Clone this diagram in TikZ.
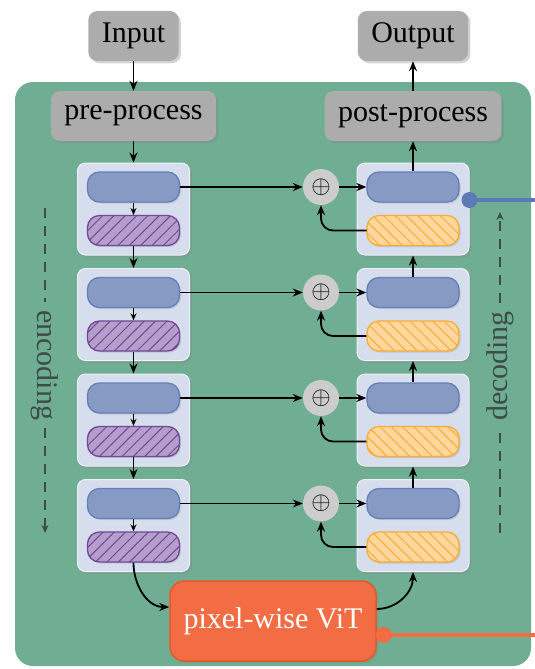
\documentclass[tikz,border=0pt]{standalone}
\usepackage{fontspec}
\setmainfont{Liberation Serif}
\usetikzlibrary{calc}
\usetikzlibrary{arrows.meta}
\usetikzlibrary{patterns.meta}
\usetikzlibrary{shadows}

\definecolor{bggreen}{RGB}{111,174,147}
\definecolor{boxgray}{RGB}{172,172,172}
\definecolor{blockbg}{RGB}{214,221,236}
\definecolor{pillblue}{RGB}{134,154,196}
\definecolor{pillbluedark}{RGB}{100,128,184}
\definecolor{hatchpurple}{RGB}{182,158,204}
\definecolor{hatchpurpledark}{RGB}{112,72,150}
\definecolor{hatchorange}{RGB}{255,214,155}
\definecolor{hatchorangedark}{RGB}{250,172,56}
\definecolor{vitorange}{RGB}{242,108,68}
\definecolor{vitorangedark}{RGB}{228,88,44}
\definecolor{linkblue}{RGB}{92,122,182}
\definecolor{labelgray}{RGB}{62,76,70}
\definecolor{addgray}{RGB}{204,204,204}

\begin{document}
\begin{tikzpicture}[x=1pt, y=-1pt, font=\rmfamily\fontsize{30}{34}\selectfont,
  >={Stealth[length=10pt,width=8pt]},
  io/.style={fill=boxgray, rounded corners=9pt, minimum height=50pt, inner xsep=13.5pt, drop shadow={opacity=.35}},
  block/.style={fill=blockbg, draw=white!60!blockbg, line width=1pt, rounded corners=8pt, minimum width=112pt, minimum height=92pt, inner sep=0pt, drop shadow={opacity=.3}},
  pill/.style={rounded corners=12pt, minimum width=92pt, minimum height=30pt, inner sep=0pt, line width=1.3pt, drop shadow={opacity=.25,shadow xshift=1.5pt,shadow yshift=-1.5pt}},
  uppill/.style={pill, fill=pillblue, draw=pillbluedark},
  encpill/.style={pill, draw=hatchpurpledark, preaction={fill=hatchpurple}, pattern={Lines[angle=45,distance=8pt,line width=1pt]}, pattern color=hatchpurpledark},
  decpill/.style={pill, draw=hatchorangedark, preaction={fill=hatchorange}, pattern={Lines[angle=-45,distance=8pt,line width=1pt]}, pattern color=hatchorangedark},
  addnode/.style={circle, fill=addgray, minimum size=36pt, inner sep=0pt},
  flow/.style={line width=1.8pt, ->},
  labeldash/.style={draw=labelgray, line width=1.4pt, dash pattern=on 10pt off 8pt, >={Stealth[length=8pt,width=7pt]}},
  sidelabel/.style={text=labelgray, inner sep=8pt}
]
\useasboundingbox (0,0) rectangle (535,669);
\fill[bggreen, rounded corners=18pt] (15,82) rectangle (531,666);

\node[io] (input) at (133.5,36) {Input};
\node[io] (output) at (413,36) {Output};
\node[io] (pre) at (133.5,116) {pre-process};
\node[io] (post) at (413,116) {post-process};

\foreach \k [evaluate=\k as \yb using 209+105.5*\k,
             evaluate=\k as \yu using 187+105.5*\k,
             evaluate=\k as \yl using 230.5+105.5*\k] in {0,1,2,3} {
 \node[block] (enc\k) at (133.5,\yb) {};
 \node[uppill] (encup\k) at (133.5,\yu) {};
 \node[encpill] (enclow\k) at (133.5,\yl) {};
 \node[block] (dec\k) at (413,\yb) {};
 \node[uppill] (decup\k) at (413,\yu) {};
 \node[decpill] (declow\k) at (413,\yl) {};
 \node[addnode] (add\k) at (321,\yu) {$\oplus$};
}

\node[fill=vitorange, draw=vitorangedark, line width=1.5pt, rounded corners=14pt, minimum width=206pt, minimum height=80pt, text=white, drop shadow={opacity=.3}] (vit) at (273,621) {pixel-wise ViT};

\draw[flow] (input) -- (pre);
\draw[flow] (pre) -- (enc0);
\draw[flow] (decup0) -- (post);
\draw[flow] (post) -- (output);
\foreach \k in {0,...,3} {
 \draw[line width=1.4pt, -{Stealth[length=7pt,width=6pt]}] (encup\k) -- (enclow\k);
 \draw[flow] (encup\k) -- (add\k);
 \draw[flow] (add\k) -- (decup\k);
 \draw[flow, rounded corners=12pt] (declow\k.west) -| (add\k.south);
}
\foreach \k [count=\j] in {0,1,2} {
 \draw[flow] (enclow\k) -- (enc\j);
 \draw[flow] (decup\j) -- (dec\k);
}
\draw[flow] (enclow3.south) to[out=-90,in=180] ([yshift=14pt]vit.west);
\draw[flow] ([yshift=12pt]vit.east) to[out=0,in=-90] (dec3.south);

\coordinate (bluedot) at ([yshift=9pt]dec0.east);
\coordinate (blueend) at (535,200);
\draw[linkblue, line width=3.5pt] (bluedot) -- (blueend);
\fill[linkblue] (bluedot) circle (8pt);
\coordinate (orangedot) at ([xshift=7pt,yshift=-14pt]vit.east);
\coordinate (orangeend) at (535,635);
\draw[vitorange, line width=3.5pt] (orangedot) -- (orangeend);
\fill[vitorange] (orangedot) circle (8pt);

\node[sidelabel, rotate=-90] (enclabel) at (45,365) {encoding};
\coordinate (enctop) at (45,208);
\coordinate (encbot) at (45,533);
\draw[labeldash] (enctop) -- (enclabel);
\draw[labeldash, ->] (enclabel) -- (encbot);
\node[sidelabel, rotate=90] (declabel) at (500,366) {decoding};
\coordinate (dectop) at (500,212);
\coordinate (decbot) at (500,533);
\draw[labeldash] (decbot) -- (declabel);
\draw[labeldash, ->] (declabel) -- (dectop);
\end{tikzpicture}
\end{document}
